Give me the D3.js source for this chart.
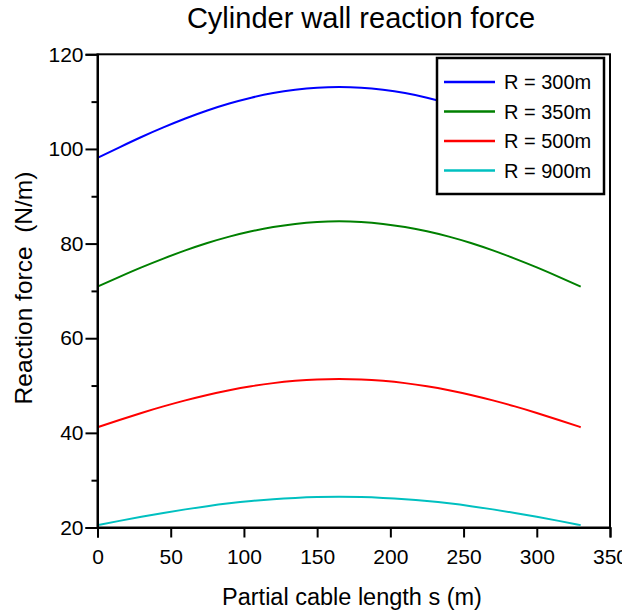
<!DOCTYPE html>
<html><head><meta charset="utf-8">
<script src="https://cdn.jsdelivr.net/npm/d3@7"></script>
<style>body{margin:0;background:#fff;} svg{display:block;font-family:"Liberation Sans",Arial,sans-serif;}</style>
</head><body>
<script>
const sValues = [0,15,30,45,60,75,90,105,120,135,150,165,180,195,210,225,240,255,270,285,300,315,330];
const r300 = [98.10,100.35,102.53,104.55,106.43,108.12,109.59,110.82,111.80,112.50,112.95,113.10,112.95,112.50,111.80,110.82,109.59,108.12,106.43,104.55,102.53,100.35,98.10];
const r350 = [70.90,72.97,74.97,76.83,78.56,80.12,81.47,82.60,83.50,84.15,84.56,84.70,84.56,84.15,83.50,82.60,81.47,80.12,78.56,76.83,74.97,72.97,70.90];
const r500 = [41.20,42.73,44.21,45.59,46.86,48.01,49.01,49.85,50.51,50.99,51.30,51.40,51.30,50.99,50.51,49.85,49.01,48.01,46.86,45.59,44.21,42.73,41.20];
const r900 = [20.50,21.40,22.27,23.08,23.83,24.51,25.10,25.59,25.98,26.26,26.44,26.50,26.44,26.26,25.98,25.59,25.10,24.51,23.83,23.08,22.27,21.40,20.50];
const seriesNames = ["R = 300m","R = 350m","R = 500m","R = 900m"];
const seriesColors = ["#0000ff","#008000","#ff0000","#00c0c0"];
const xTicks = [0,50,100,150,200,250,300,350];
const yTicks = [20,40,60,80,100,120];
const yMinor = [30,50,70,90,110];

const W=622,H=613;
const svg=d3.select("body").append("svg").attr("width",W).attr("height",H);
const x=d3.scaleLinear().domain([0,350]).range([97.5,610]);
const y=d3.scaleLinear().domain([20,120]).range([527.5,54.3]);

// frame
svg.append("rect").attr("x",x(0)).attr("y",y(120)).attr("width",x(350)-x(0)).attr("height",y(20)-y(120))
  .attr("fill","none").attr("stroke","#000").attr("stroke-width",2);

const data=[r300,r350,r500,r900];
const line=d3.line().x((d,i)=>x(sValues[i])).y(d=>y(d)).curve(d3.curveNatural);
data.forEach((vals,k)=>{
  svg.append("path").datum(vals).attr("d",line).attr("fill","none")
    .attr("stroke",seriesColors[k]).attr("stroke-width",2);
});

// axes
const xAxis=svg.append("g").attr("transform",`translate(0,${y(20)})`)
  .call(d3.axisBottom(x).tickValues(xTicks).tickSize(10).tickPadding(12).tickFormat(d3.format("d")));
const yAxis=svg.append("g").attr("transform",`translate(${x(0)},0)`)
  .call(d3.axisLeft(y).tickValues(yTicks).tickSize(12).tickPadding(2).tickFormat(d3.format("d")));
svg.append("g").attr("transform",`translate(${x(0)},0)`)
  .call(d3.axisLeft(y).tickValues(yMinor).tickSize(6).tickFormat(""))
  .call(g=>g.select(".domain").remove());
[xAxis,yAxis].forEach(g=>{
  g.select(".domain").attr("stroke-width",2);
  g.selectAll(".tick text").attr("font-size",21).attr("fill","#000").attr("font-family","Liberation Sans, Arial, sans-serif");
});
svg.selectAll(".tick line").attr("stroke-width",2);

// title and labels
svg.append("text").attr("x",361).attr("y",28).attr("text-anchor","middle").attr("font-size",29).text("Cylinder wall reaction force");
svg.append("text").attr("x",352).attr("y",605).attr("text-anchor","middle").attr("font-size",23.5).text("Partial cable length s (m)");
svg.append("text").attr("transform","translate(32,288) rotate(-90)").attr("text-anchor","middle").attr("font-size",24.5)
  .style("white-space","pre").text("Reaction force  (N/m)");

// legend
const lg=svg.append("g");
lg.append("rect").attr("x",437).attr("y",58).attr("width",167).attr("height",136).attr("fill","#fff").attr("stroke","#000").attr("stroke-width",2.5);
seriesNames.forEach((n,k)=>{
  const yy=82+k*29.5;
  lg.append("line").attr("x1",444).attr("x2",495).attr("y1",yy).attr("y2",yy).attr("stroke",seriesColors[k]).attr("stroke-width",2.5);
  lg.append("text").attr("x",504).attr("y",yy+7).attr("font-size",20).text(n);
});
</script>
</body></html>
